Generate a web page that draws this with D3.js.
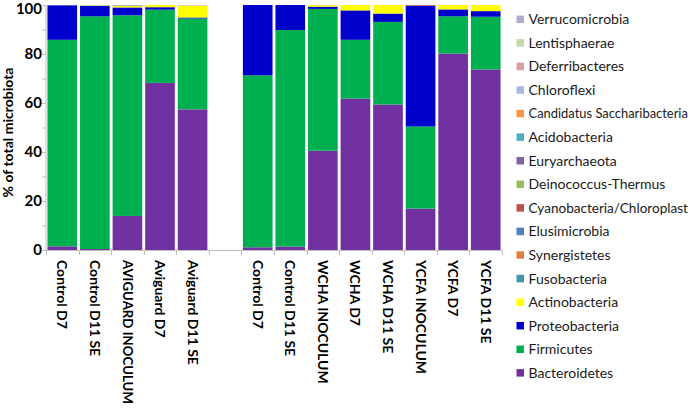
<!DOCTYPE html>
<html>
<head>
<meta charset="utf-8">
<script src="https://cdn.jsdelivr.net/npm/d3@7"></script>
<style>
  html, body { margin: 0; padding: 0; background: #fff; }
  svg { display: block; }
  text { font-family: Lato, "Open Sans", sans-serif; }
</style>
</head>
<body>
<svg id="chart" width="692" height="408"></svg>
<script>
// ---- DATA ----
const categories = ["Control D7", "Control D11 SE", "AVIGUARD INOCULUM", "Aviguard D7", "Aviguard D11 SE", "",
  "Control D7", "Control D11 SE", "WCHA INOCULUM", "WCHA D7", "WCHA D11 SE", "YCFA INOCULUM", "YCFA D7", "YCFA D11 SE"];

const bacteroidetes      = [1.5, 0.4, 13.9, 68.2, 57.4, 0, 1.1, 1.4, 40.5, 61.8, 59.4, 16.9, 80.2, 73.7];
const firmicutes         = [84.3, 95.0, 81.9, 29.9, 37.1, 0, 70.2, 88.4, 57.9, 24.0, 33.7, 33.5, 15.2, 21.5];
const proteobacteria     = [14.1, 4.3, 3.2, 1.0, 0.4, 0, 28.7, 10.2, 0.9, 12.0, 3.4, 49.3, 2.8, 2.3];
const actinobacteria     = [0, 0.2, 0.6, 0.9, 4.9, 0, 0, 0, 0.6, 2.2, 3.5, 0, 1.8, 2.5];
const fusobacteria       = [0, 0, 0, 0, 0, 0, 0, 0, 0, 0, 0, 0, 0, 0];
const synergistetes      = [0, 0, 0, 0, 0, 0, 0, 0, 0, 0, 0, 0, 0, 0];
const elusimicrobia      = [0, 0, 0, 0, 0, 0, 0, 0, 0, 0, 0, 0, 0, 0];
const cyanobacteria      = [0, 0, 0, 0, 0, 0, 0, 0, 0, 0, 0, 0.3, 0, 0];
const deinococcus        = [0, 0, 0, 0, 0, 0, 0, 0, 0, 0, 0, 0, 0, 0];
const euryarchaeota      = [0, 0, 0, 0, 0, 0, 0, 0, 0, 0, 0, 0, 0, 0];
const acidobacteria      = [0, 0, 0, 0, 0, 0, 0, 0, 0, 0, 0, 0, 0, 0];
const candidatus         = [0, 0, 0, 0, 0, 0, 0, 0, 0.1, 0, 0, 0, 0, 0];
const chloroflexi        = [0, 0, 0, 0, 0, 0, 0, 0, 0, 0, 0, 0, 0, 0];
const deferribacteres    = [0, 0, 0, 0, 0, 0, 0, 0, 0, 0, 0, 0, 0, 0];
const lentisphaerae      = [0, 0, 0, 0, 0, 0, 0, 0, 0, 0, 0, 0, 0, 0];
const verrucomicrobia    = [0.1, 0.1, 0.4, 0, 0.2, 0, 0, 0, 0, 0, 0, 0, 0, 0];

const yTicks = [0, 20, 40, 60, 80, 100];

// series from bottom of stack to top
const seriesNames = ["Bacteroidetes", "Firmicutes", "Proteobacteria", "Actinobacteria", "Fusobacteria",
  "Synergistetes", "Elusimicrobia", "Cyanobacteria/Chloroplast", "Deinococcus-Thermus", "Euryarchaeota",
  "Acidobacteria", "Candidatus Saccharibacteria", "Chloroflexi", "Deferribacteres", "Lentisphaerae", "Verrucomicrobia"];
const seriesValues = [bacteroidetes, firmicutes, proteobacteria, actinobacteria, fusobacteria,
  synergistetes, elusimicrobia, cyanobacteria, deinococcus, euryarchaeota,
  acidobacteria, candidatus, chloroflexi, deferribacteres, lentisphaerae, verrucomicrobia];
const seriesColors = ["#7030a0", "#00b050", "#0000cc", "#ffff00", "#4198af",
  "#e0803c", "#4f81bd", "#c0504d", "#9bbb59", "#8064a2",
  "#4bacc6", "#f79646", "#a7b9dc", "#d9a0a0", "#c4d9a8", "#b3a9d0"];

// ---- BUILD TABLE ----
const table = categories.map((c, i) => {
  const row = { key: i, label: c, empty: c === "" };
  seriesNames.forEach((s, j) => row[s] = seriesValues[j][i]);
  return row;
});

const svg = d3.select("#chart");
const W = 692, H = 408;
const x0 = 46, x1 = 502, yTop = 5, yBot = 250;

const x = d3.scaleBand().domain(table.map(d => d.key)).range([x0, x1])
  .paddingInner(0.09).paddingOuter(0.045);
const y = d3.scaleLinear().domain([0, 100]).range([yBot, yTop]);
const color = d3.scaleOrdinal().domain(seriesNames).range(seriesColors);

const stacked = d3.stack().keys(seriesNames)(table);

// shrink a text's font size when it would not fit in the given room
function fit(room) {
  return function () {
    const len = this.getComputedTextLength();
    if (len > room) {
      const fs = parseFloat(d3.select(this).attr("font-size"));
      d3.select(this).attr("font-size", (fs * room / len).toFixed(2));
    }
  };
}

// bars
svg.append("g").selectAll("g").data(stacked).join("g")
  .attr("fill", d => color(d.key))
  .selectAll("rect").data(d => d.filter(p => !p.data.empty && p[1] - p[0] > 0)).join("rect")
  .attr("x", p => x(p.data.key))
  .attr("width", x.bandwidth())
  .attr("y", p => y(p[1]))
  .attr("height", p => y(p[0]) - y(p[1]));

// y axis
const axisCol = "#bfbfbf";
const yAxis = svg.append("g").attr("transform", `translate(${x0},0)`);
yAxis.append("line").attr("x1", 0).attr("x2", 0).attr("y1", y(100)).attr("y2", y(0)).attr("stroke", axisCol);
yAxis.selectAll("line.minor").data(d3.range(0, 101, 10)).join("line")
  .attr("class", "minor")
  .attr("x1", -4).attr("x2", 0)
  .attr("y1", d => y(d) + 0.5).attr("y2", d => y(d) + 0.5)
  .attr("stroke", axisCol);
yAxis.selectAll("text").data(yTicks).join("text")
  .attr("x", -4).attr("y", d => Math.max(y(d), 8.5))
  .attr("dy", "0.36em")
  .attr("text-anchor", "end")
  .attr("font-size", 15).attr("font-weight", "bold").attr("fill", "#000")
  .text(d => d);

svg.append("text")
  .attr("transform", `translate(13,${(yTop + yBot) / 2 + 5}) rotate(-90)`)
  .attr("text-anchor", "middle")
  .attr("font-size", 14).attr("font-weight", "bold").attr("fill", "#000")
  .text("% of total microbiota");

// x axis
const xAxis = svg.append("g");
xAxis.append("line").attr("x1", x0).attr("x2", x1).attr("y1", yBot + 0.5).attr("y2", yBot + 0.5).attr("stroke", axisCol);
const step = x.step();
xAxis.selectAll("line.tick").data(d3.range(0, categories.length + 1)).join("line")
  .attr("class", "tick")
  .attr("x1", i => Math.round(x0 + i * step) + 0.5).attr("x2", i => Math.round(x0 + i * step) + 0.5)
  .attr("y1", yBot).attr("y2", yBot + 5)
  .attr("stroke", axisCol);
const labelStart = yBot + 10;
xAxis.selectAll("text").data(table.filter(d => !d.empty)).join("text")
  .attr("transform", d => `translate(${x(d.key) + x.bandwidth() / 2},${labelStart}) rotate(90)`)
  .attr("dy", "0.36em")
  .attr("text-anchor", "start")
  .attr("font-size", 14).attr("font-weight", "bold").attr("fill", "#000")
  .text(d => d.label)
  .each(fit(H - labelStart - 4));

// legend (top = last series)
const legendNames = seriesNames.slice().reverse();
const lgX = 516.5;
const lg = svg.append("g").attr("transform", `translate(${lgX},0)`);
const rowY = i => 19.3 + i * 23.57;
lg.selectAll("rect").data(legendNames).join("rect")
  .attr("x", 0).attr("y", (d, i) => rowY(i) - 3.75)
  .attr("width", 7.5).attr("height", 7.5)
  .attr("fill", d => color(d));
lg.selectAll("text").data(legendNames).join("text")
  .attr("x", 12).attr("y", (d, i) => rowY(i))
  .attr("dy", "0.36em")
  .attr("font-size", 14).attr("fill", "#1a1a1a")
  .text(d => d)
  .each(fit(W - lgX - 12 - 4));
</script>
</body>
</html>
